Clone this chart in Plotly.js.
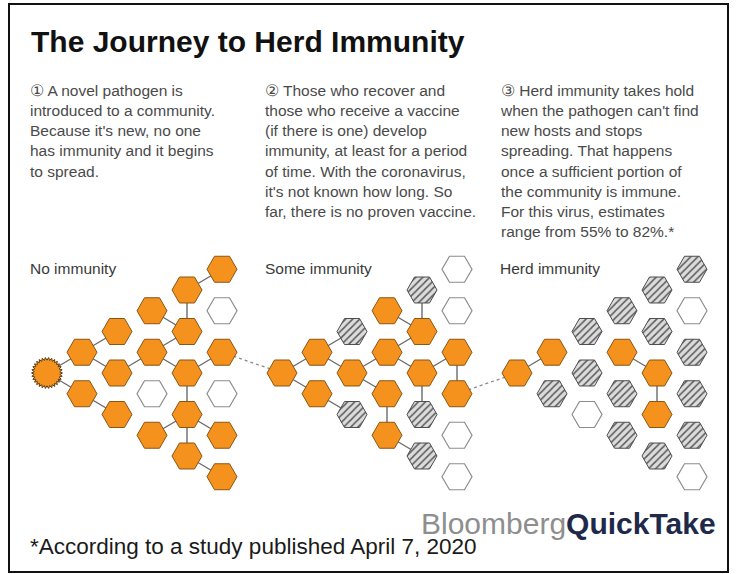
<!DOCTYPE html>
<html><head><meta charset="utf-8">
<script src="https://cdn.plot.ly/plotly-3.0.1.min.js"></script>
<style>html,body{margin:0;padding:0;background:#fff}</style>
</head><body><div id="chart" style="width:744px;height:574px"></div>
<script>
// ---------------- DATA ----------------
const titleText = 'The Journey to Herd Immunity';
const panelLabels = ['No immunity', 'Some immunity', 'Herd immunity'];
const panelText1 = ['\u2460 A novel pathogen is', 'introduced to a community.', "Because it's new, no one", 'has immunity and it begins', 'to spread.'];
const panelText2 = ['\u2461 Those who recover and', 'those who receive a vaccine', '(if there is one) develop', 'immunity, at least for a period', 'of time. With the coronavirus,', "it's not known how long. So", 'far, there is no proven vaccine.'];
const panelText3 = ['\u2462 Herd immunity takes hold', "when the pathogen can't find", 'new hosts and stops', 'spreading. That happens', 'once a sufficient portion of', 'the community is immune.', 'For this virus, estimates', 'range from 55% to 82%.*'];
const footnote = '*According to a study published April 7, 2020';
const brandA = 'Bloomberg';
const brandB = 'QuickTake';

// node states per column (top to bottom): S = source, I = infected, R = immune, N = not infected
const states1 = [['S'], ['I','I'], ['I','I','I'], ['I','I','N','I'], ['I','I','I','I','I'], ['I','N','I','N','I','I']];
const states2 = [['I'], ['I','I'], ['R','I','R'], ['I','I','I','I'], ['R','I','I','R','R'], ['N','N','I','I','N','N']];
const states3 = [['I'], ['I','R'], ['R','R','N'], ['R','I','R','R'], ['R','R','I','I','R'], ['R','N','R','R','R','N']];

// transmission links: [colA, rowA, colB, rowB]
const links1 = [[0,0,1,0],[0,0,1,1],[1,0,2,0],[1,0,2,1],[1,1,2,2],[2,1,3,1],[3,0,4,1],[3,1,4,1],[3,1,4,2],[4,0,4,1],[4,0,5,0],[4,2,5,2],[4,2,4,3],[4,3,3,3],[4,3,5,4],[4,3,4,4],[4,4,5,5]];
const links2 = [[0,0,1,0],[0,0,1,1],[1,0,2,0],[1,0,2,1],[1,1,2,2],[2,1,3,1],[2,1,3,2],[3,0,4,1],[3,1,4,1],[4,0,4,1],[3,1,4,2],[4,2,5,2],[4,2,4,3],[3,2,3,3],[3,3,4,4],[5,2,5,3]];
const links3 = [[0,0,1,0],[3,1,4,2],[4,2,4,3]];
// dotted hand-off between panels: [fromPanel, col, row] -> next panel source
const handoffs = [[0,5,2],[1,5,3]];

// ---------------- LAYOUT HELPERS ----------------
const W = 744, H = 574;
const panelX0 = [47, 282, 517];
const textX = [30, 265, 500];
const colStep = 35, rowStep = 41.5, yMid = 373, hexR = 15;
const ORANGE = '#F5921E', ORANGE_LINE = '#8a5514';
const allStates = [states1, states2, states3];
const allLinks = [links1, links2, links3];

function pos(p, c, k) {
  return [panelX0[p] + c * colStep, yMid + (k - c / 2) * rowStep];
}

const traces = [];
// links
const lx = [], ly = [];
allLinks.forEach((links, p) => links.forEach(l => {
  const a = pos(p, l[0], l[1]), b = pos(p, l[2], l[3]);
  lx.push(a[0], b[0], null); ly.push(a[1], b[1], null);
}));
traces.push({x: lx, y: ly, mode: 'lines', line: {color: '#6b6b6b', width: 1.4}, hoverinfo: 'skip'});
// dotted hand-offs
const dx = [], dy = [];
handoffs.forEach(h => {
  const a = pos(h[0], h[1], h[2]), b = pos(h[0] + 1, 0, 0);
  dx.push(a[0], b[0], null); dy.push(a[1], b[1], null);
});
traces.push({x: dx, y: dy, mode: 'lines', line: {color: '#8a8a8a', width: 1.3, dash: 'dot'}, hoverinfo: 'skip'});

// nodes
const ix = [], iy = [], nx = [], ny = [], rx = [], ry = [], sx = [], sy = [];
allStates.forEach((cols, p) => cols.forEach((col, c) => col.forEach((s, k) => {
  const q = pos(p, c, k);
  if (s === 'I') { ix.push(q[0]); iy.push(q[1]); }
  else if (s === 'N') { nx.push(q[0]); ny.push(q[1]); }
  else if (s === 'S') {
    const n = 30;
    for (let i = 0; i <= 2 * n; i++) {
      const ang = Math.PI * i / n, rr = (i % 2 === 0) ? 15.5 : 12.8;
      sx.push(q[0] + rr * Math.cos(ang)); sy.push(q[1] + rr * Math.sin(ang));
    }
    sx.push(null); sy.push(null);
  } else {
    for (let i = 0; i <= 6; i++) {
      const ang = Math.PI * i / 3;
      rx.push(q[0] + hexR * Math.cos(ang)); ry.push(q[1] + hexR * Math.sin(ang));
    }
    rx.push(null); ry.push(null);
  }
})));
traces.push({x: rx, y: ry, mode: 'lines', fill: 'toself', fillcolor: '#d6d6d6',
  fillpattern: {shape: '/', fgcolor: '#5a5a5a', bgcolor: '#dcdcdc', size: 5, solidity: 0.3},
  line: {color: '#4d4d4d', width: 1}, hoverinfo: 'skip'});
traces.push({x: ix, y: iy, mode: 'markers', marker: {symbol: 'hexagon2', size: 30, color: ORANGE, line: {color: ORANGE_LINE, width: 1}}, hoverinfo: 'skip'});
traces.push({x: nx, y: ny, mode: 'markers', marker: {symbol: 'hexagon2', size: 30, color: '#ffffff', line: {color: '#8c8c8c', width: 1.2}}, hoverinfo: 'skip'});
traces.push({x: sx, y: sy, mode: 'lines', fill: 'toself', fillcolor: ORANGE, line: {color: '#5a3a10', width: 1}, hoverinfo: 'skip'});

// ---------------- TEXT ----------------
const FONT = 'Liberation Sans, Arial, sans-serif';
const ann = [];
ann.push({x: 29, y: 41, xref: 'x', yref: 'y', xanchor: 'left', yanchor: 'middle', showarrow: false,
  text: '<b>' + titleText + '</b>', font: {family: FONT, size: 30, color: '#111'}});
const texts = [panelText1, panelText2, panelText3];
texts.forEach((t, p) => {
  ann.push({x: textX[p] - 2, y: 80, xref: 'x', yref: 'y', xanchor: 'left', yanchor: 'top', align: 'left', showarrow: false,
    text: t.join('<br>'), font: {family: FONT, size: 15.5, color: '#4a4a4a'}});
  ann.push({x: textX[p] - 2, y: 268, xref: 'x', yref: 'y', xanchor: 'left', yanchor: 'middle', showarrow: false,
    text: panelLabels[p], font: {family: FONT, size: 15.5, color: '#3a3a3a'}});
});
ann.push({x: 28, y: 546, xref: 'x', yref: 'y', xanchor: 'left', yanchor: 'middle', showarrow: false,
  text: footnote, font: {family: FONT, size: 22.5, color: '#1a1a1a'}});
ann.push({x: 718, y: 523, xref: 'x', yref: 'y', xanchor: 'right', yanchor: 'middle', showarrow: false,
  text: '<span style="color:#8e8e8e">' + brandA + '</span><b style="color:#1f2a4a">' + brandB + '</b>',
  font: {family: FONT, size: 30, color: '#8e8e8e'}});

const layout = {
  width: W, height: H, margin: {l: 0, r: 0, t: 0, b: 0},
  paper_bgcolor: '#fff', plot_bgcolor: '#fff', showlegend: false,
  xaxis: {range: [0, W], visible: false, fixedrange: true},
  yaxis: {range: [H, 0], visible: false, fixedrange: true},
  shapes: [{type: 'rect', xref: 'x', yref: 'y', x0: 9, x1: 728, y0: 4, y1: 572, line: {color: '#111', width: 2}, fillcolor: 'rgba(0,0,0,0)'}],
  annotations: ann
};
Plotly.newPlot('chart', traces, layout, {displayModeBar: false, staticPlot: true});
</script></body></html>
